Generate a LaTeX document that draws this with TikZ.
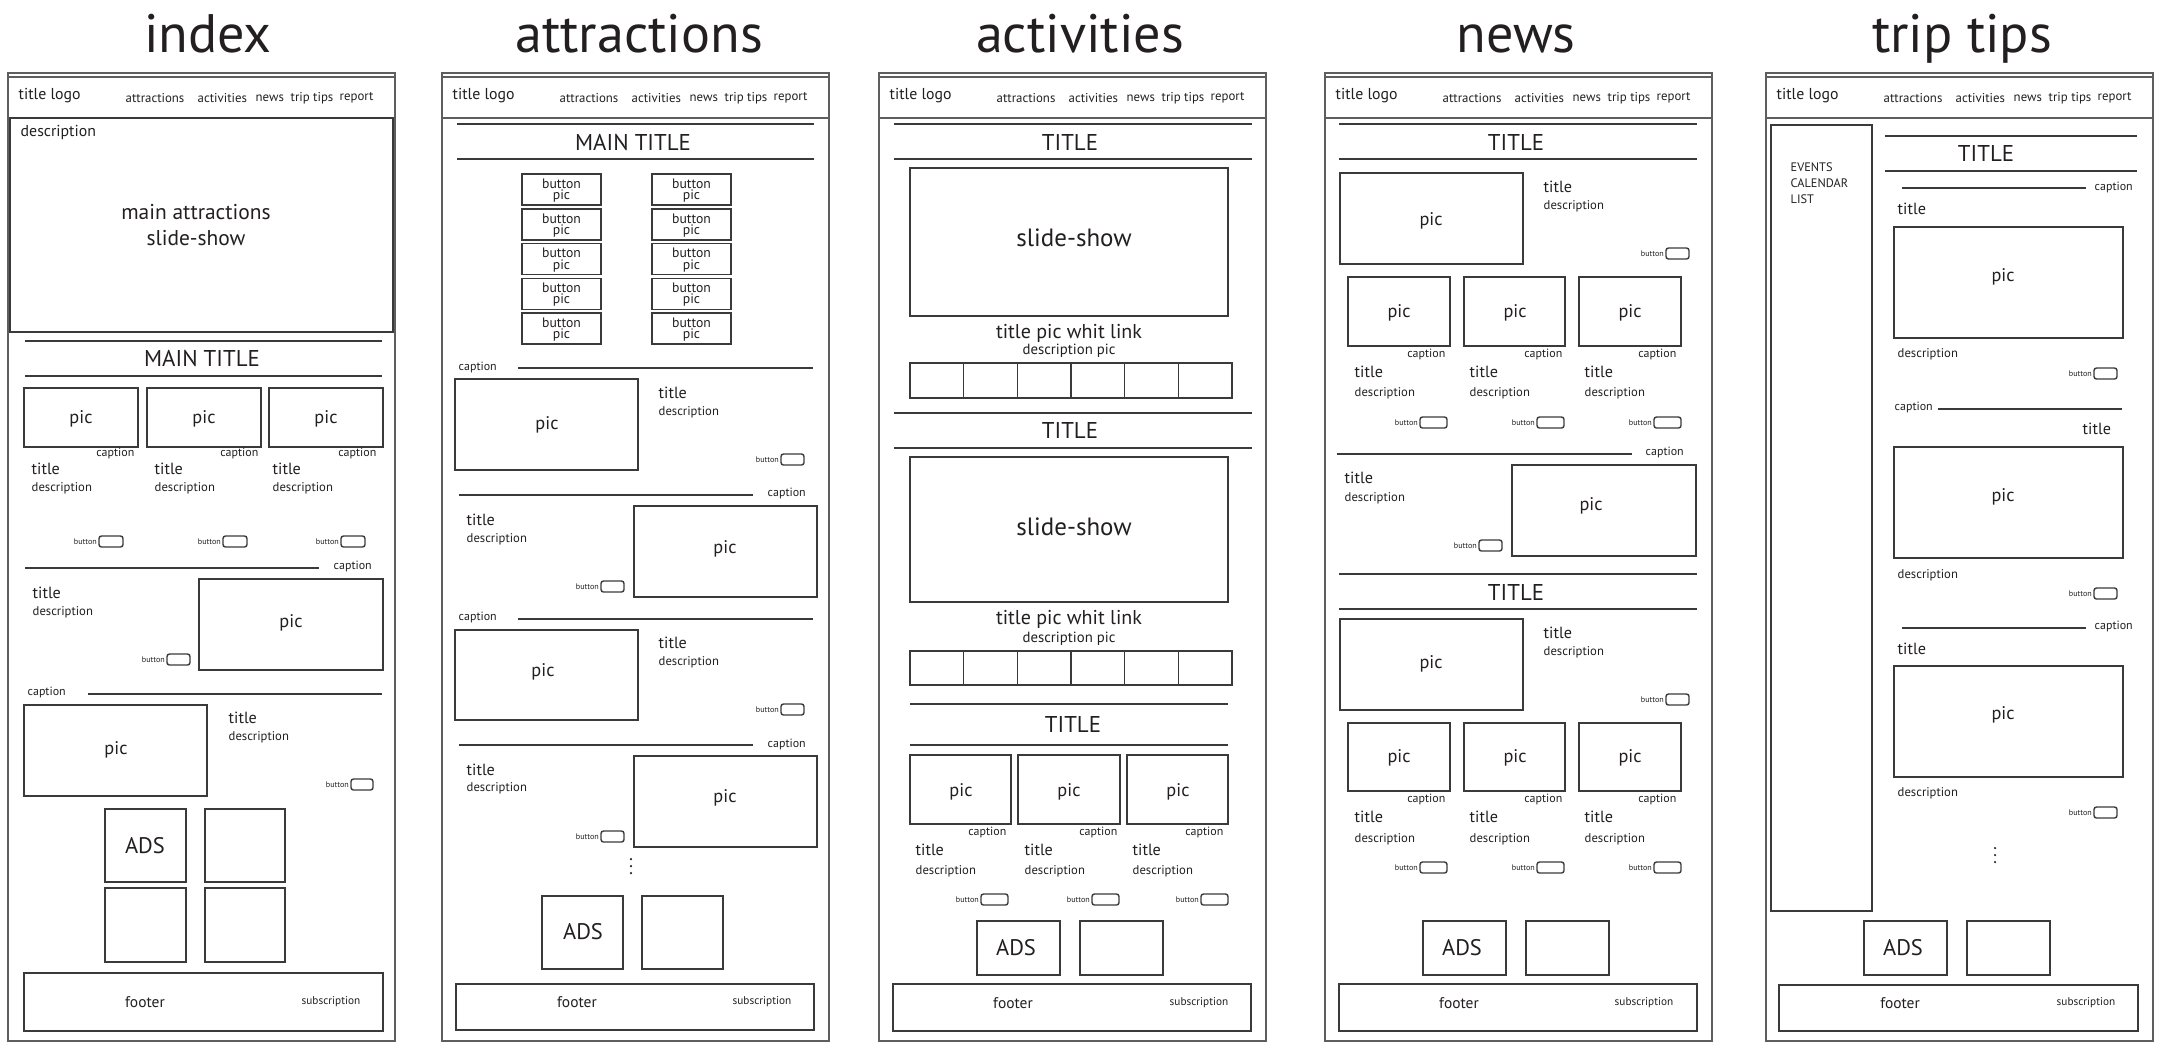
\documentclass[tikz,border=0pt]{standalone}
\usepackage{fontspec}
\setmainfont{PT Sans}
\usetikzlibrary{positioning}
\definecolor{wire}{HTML}{3A3A3A}
\definecolor{framegray}{HTML}{5E5E5E}
\definecolor{ink}{HTML}{231F20}
\tikzset{
	frame/.style={draw=framegray, line width=0.75pt},
	box/.style={draw=wire, line width=0.45pt},
	rule/.style={draw=wire, line width=0.5pt},
	btnbox/.style={draw=wire, line width=0.4pt, rounded corners=0.025cm},
	txt/.style={inner sep=0pt, text=ink},
	pagetitle/.style={txt, anchor=base, font=\fontsize{15.4}{16}\selectfont},
	logotxt/.style={txt, anchor=west, font=\fontsize{4.5}{5}\selectfont},
	navtxt/.style={txt, anchor=west, font=\fontsize{3.65}{4}\selectfont},
	herotxt/.style={txt, anchor=west, font=\fontsize{4.5}{5}\selectfont},
	showtxt/.style={txt, align=center, font=\fontsize{6.1}{7.4}\selectfont},
	bigtitle/.style={txt, font=\fontsize{6.5}{7}\selectfont},
	pictxt/.style={txt, font=\fontsize{5.2}{6}\selectfont},
	captxt/.style={txt, font=\fontsize{3.4}{4}\selectfont},
	ttltxt/.style={txt, anchor=west, font=\fontsize{4.6}{5}\selectfont},
	desctxt/.style={txt, anchor=west, font=\fontsize{3.6}{4}\selectfont},
	btntxt/.style={txt, anchor=east, font=\fontsize{2.3}{3}\selectfont},
	adstxt/.style={txt, font=\fontsize{6.4}{7}\selectfont},
	foottxt/.style={txt, font=\fontsize{4.4}{5}\selectfont},
	subtxt/.style={txt, font=\fontsize{3.2}{4}\selectfont},
	bptxt/.style={txt, font=\fontsize{3.9}{4.5}\selectfont},
	slidetxt/.style={txt, font=\fontsize{7.1}{8}\selectfont},
	linktxt/.style={txt, font=\fontsize{5.7}{6}\selectfont},
	descpic/.style={txt, font=\fontsize{4.2}{5}\selectfont},
	listtxt/.style={txt, anchor=north west, align=left, font=\fontsize{3.5}{4.55}\selectfont}
}
% frame + header of one page: prefix, title x, title
\newcommand{\wirehead}[3]{%
	\draw[frame] (0,73) rectangle ++(387,968);
	\draw[frame] (0,77) rectangle ++(387,41);
	\node[pagetitle] (#1name) at (#2,52) {#3};
	\node[logotxt] (#1logo) at (10,96) {title logo};
	\node[navtxt] (#1nav1) at (117,98) {attractions};
	\node[navtxt] (#1nav2) at (189,98) {activities};
	\node[navtxt] (#1nav3) at (247,98) {news};
	\node[navtxt] (#1nav4) at (282,98) {trip tips};
	\node[navtxt] (#1nav5) at (331,98) {report};}
% small button: name, x, y, width
\newcommand{\webbtn}[4]{%
	\draw[btnbox] (#2,#3) rectangle ++(#4,11);
	\node[btntxt] (#1) at (#2-1.5,#3+5.5) {button};}

\begin{document}
\begin{tikzpicture}[x=0.01cm, y=-0.01cm]
	\useasboundingbox (0,0) rectangle (2161,1050);

	%%%%%%%%%%%%%%%%%%%% index
	\begin{scope}[shift={(8,0)}]
	\wirehead{idx}{200}{index}
	
	% slide-show
	\draw[box] (2,118) rectangle ++(383,214);
	\node[herotxt] (idxdesc) at (12,132) {description};
	\node[showtxt] (idxshow) at (188,225) {main attractions\\slide-show};
	
	% main title
	\draw[rule] (17,341) -- (374,341);
	\draw[rule] (17,376) -- (374,376);
	\node[bigtitle] (idxmain) at (194,358) {MAIN TITLE};
	
	% three pics
	\draw[box] (16,388) rectangle ++(114,59);
	\draw[box] (139,388) rectangle ++(114,59);
	\draw[box] (261,388) rectangle ++(114,59);
	\node[pictxt] (idxpic1) at (73,419) {pic};
	\node[pictxt] (idxpic2) at (196,419) {pic};
	\node[pictxt] (idxpic3) at (318,419) {pic};
	\node[captxt, anchor=east] (idxcap1) at (127,453) {caption};
	\node[captxt, anchor=east] (idxcap2) at (251,453) {caption};
	\node[captxt, anchor=east] (idxcap3) at (369,453) {caption};
	\node[ttltxt] (idxt1) at (23,469) {title};
	\node[ttltxt] (idxt2) at (146,469) {title};
	\node[ttltxt] (idxt3) at (264,469) {title};
	\node[desctxt] (idxd1) at (23,488) {description};
	\node[desctxt] (idxd2) at (146,488) {description};
	\node[desctxt] (idxd3) at (264,488) {description};
	\webbtn{idxb1}{91}{536}{24}
	\webbtn{idxb2}{215}{536}{24}
	\webbtn{idxb3}{333}{536}{24}
	
	% pic right
	\draw[rule] (17,568) -- (311,568);
	\node[captxt, anchor=west] (idxcap4) at (325,566) {caption};
	\node[ttltxt] (idxt4) at (24,593) {title};
	\node[desctxt] (idxd4) at (24,612) {description};
	\draw[box] (191,579) rectangle ++(184,91);
	\node[pictxt] (idxpic4) at (283,623) {pic};
	\webbtn{idxb4}{159}{654}{23}
	
	% pic left
	\node[captxt, anchor=west] (idxcap5) at (19,692) {caption};
	\draw[rule] (80,694) -- (374,694);
	\draw[box] (16,705) rectangle ++(183,91);
	\node[pictxt] (idxpic5) at (108,750) {pic};
	\node[ttltxt] (idxt5) at (220,718) {title};
	\node[desctxt] (idxd5) at (220,737) {description};
	\webbtn{idxb5}{343}{779}{22}
	
	% ads
	\draw[box] (97,809) rectangle ++(81,73);
	\draw[box] (197,809) rectangle ++(80,73);
	\draw[box] (97,888) rectangle ++(81,74);
	\draw[box] (197,888) rectangle ++(80,74);
	\node[adstxt] (idxads) at (137,846) {ADS};
	
	% footer
	\draw[box] (16,973) rectangle ++(359,58);
	\node[foottxt] (idxfoot) at (137,1002) {footer};
	\node[subtxt] (idxsub) at (323,1002) {subscription};
	\end{scope}

	%%%%%%%%%%%%%%%%%%%% attractions
	\begin{scope}[shift={(442,0)}]
	\wirehead{att}{197}{attractions}
	
	% main title
	\draw[rule] (15,124) -- (372,124);
	\draw[rule] (15,159) -- (372,159);
	\node[bigtitle] (attmain) at (191,142) {MAIN TITLE};
	
	% button pics
	\foreach \r in {0,...,4}{
		\draw[box] (80,174+34.8*\r) rectangle ++(79,31);
		\draw[box] (210,174+34.8*\r) rectangle ++(79,31);
		\node[bptxt] (attbl\r) at (119.5,183.5+34.8*\r) {button};
		\node[bptxt] (attpl\r) at (119.5,196+34.8*\r) {pic};
		\node[bptxt] (attbr\r) at (249.5,183.5+34.8*\r) {button};
		\node[bptxt] (attpr\r) at (249.5,196+34.8*\r) {pic};
	}
	
	% pic left
	\node[captxt, anchor=west] (attcap1) at (16,367) {caption};
	\draw[rule] (76,368) -- (371,368);
	\draw[box] (13,379) rectangle ++(183,91);
	\node[pictxt] (attpic1) at (105,425) {pic};
	\node[ttltxt] (attt1) at (216,393) {title};
	\node[desctxt] (attd1) at (216,412) {description};
	\webbtn{attb1}{339}{454}{23}
	
	% pic right
	\draw[rule] (17,495) -- (311,495);
	\node[captxt, anchor=west] (attcap2) at (325,493) {caption};
	\node[ttltxt] (attt2) at (24,520) {title};
	\node[desctxt] (attd2) at (24,539) {description};
	\draw[box] (192,506) rectangle ++(183,91);
	\node[pictxt] (attpic2) at (283,549) {pic};
	\webbtn{attb2}{159}{581}{23}
	
	% pic left
	\node[captxt, anchor=west] (attcap3) at (16,617) {caption};
	\draw[rule] (76,619) -- (371,619);
	\draw[box] (13,630) rectangle ++(183,90);
	\node[pictxt] (attpic3) at (101,672) {pic};
	\node[ttltxt] (attt3) at (216,643) {title};
	\node[desctxt] (attd3) at (216,662) {description};
	\webbtn{attb3}{339}{704}{23}
	
	% pic right
	\draw[rule] (17,745) -- (311,745);
	\node[captxt, anchor=west] (attcap4) at (325,744) {caption};
	\node[ttltxt] (attt4) at (24,770) {title};
	\node[desctxt] (attd4) at (24,788) {description};
	\draw[box] (192,756) rectangle ++(183,91);
	\node[pictxt] (attpic4) at (283,798) {pic};
	\webbtn{attb4}{159}{831}{23}
	\foreach \d in {0,1,2}
		\fill[ink] (189,859+7*\d) circle (0.35pt);
	
	% ads
	\draw[box] (100,896) rectangle ++(81,73);
	\draw[box] (200,896) rectangle ++(81,73);
	\node[adstxt] (attads) at (141,932) {ADS};
	
	% footer
	\draw[box] (14,984) rectangle ++(358,46);
	\node[foottxt] (attfoot) at (135,1002) {footer};
	\node[subtxt] (attsub) at (320,1002) {subscription};
	\end{scope}

	%%%%%%%%%%%%%%%%%%%% activities
	\begin{scope}[shift={(879,0)}]
	\wirehead{act}{201}{activities}
	
	% first slide-show
	\draw[rule] (15,124) -- (373,124);
	\draw[rule] (15,159) -- (373,159);
	\node[bigtitle] (actttl1) at (191,142) {TITLE};
	\draw[box] (31,168) rectangle ++(318,148);
	\node[slidetxt] (actshow1) at (195,238) {slide-show};
	\node[linktxt] (actlink1) at (190,333) {title pic whit link};
	\node[descpic] (actdp1) at (190,351) {description pic};
	\foreach \c in {0,...,5}
		\draw[box] (31+53.67*\c,363) rectangle ++(53.67,35);
	
	% second slide-show
	\draw[rule] (15,413) -- (373,413);
	\draw[rule] (15,448) -- (373,448);
	\node[bigtitle] (actttl2) at (191,430) {TITLE};
	\draw[box] (31,457) rectangle ++(318,145);
	\node[slidetxt] (actshow2) at (195,527) {slide-show};
	\node[linktxt] (actlink2) at (190,619) {title pic whit link};
	\node[descpic] (actdp2) at (190,639) {description pic};
	\foreach \c in {0,...,5}
		\draw[box] (31+53.67*\c,651) rectangle ++(53.67,34);
	
	% three pics
	\draw[rule] (31,704) -- (349,704);
	\draw[rule] (31,745) -- (349,745);
	\node[bigtitle] (actttl3) at (194,724) {TITLE};
	\draw[box] (31,755) rectangle ++(101,69);
	\draw[box] (139,755) rectangle ++(102,69);
	\draw[box] (248,755) rectangle ++(101,69);
	\node[pictxt] (actpic1) at (82,792) {pic};
	\node[pictxt] (actpic2) at (190,792) {pic};
	\node[pictxt] (actpic3) at (299,792) {pic};
	\node[captxt, anchor=east] (actcap1) at (128,832) {caption};
	\node[captxt, anchor=east] (actcap2) at (239,832) {caption};
	\node[captxt, anchor=east] (actcap3) at (345,832) {caption};
	\node[ttltxt] (actt1) at (36,850) {title};
	\node[ttltxt] (actt2) at (145,850) {title};
	\node[ttltxt] (actt3) at (253,850) {title};
	\node[desctxt] (actd1) at (36,871) {description};
	\node[desctxt] (actd2) at (145,871) {description};
	\node[desctxt] (actd3) at (253,871) {description};
	\webbtn{actb1}{102}{894}{27}
	\webbtn{actb2}{213}{894}{27}
	\webbtn{actb3}{322}{894}{27}
	
	% ads
	\draw[box] (98,921) rectangle ++(83,54);
	\draw[box] (201,921) rectangle ++(83,54);
	\node[adstxt] (actads) at (137,948) {ADS};
	
	% footer
	\draw[box] (14,984) rectangle ++(358,47);
	\node[foottxt] (actfoot) at (134,1003) {footer};
	\node[subtxt] (actsub) at (320,1003) {subscription};
	\end{scope}

	%%%%%%%%%%%%%%%%%%%% news
	\begin{scope}[shift={(1325,0)}]
	\wirehead{nws}{191}{news}
	
	% first block
	\draw[rule] (14,124) -- (372,124);
	\draw[rule] (14,159) -- (372,159);
	\node[bigtitle] (nwsttl1) at (191,142) {TITLE};
	\draw[box] (15,173) rectangle ++(183,91);
	\node[pictxt] (nwspic1) at (106,221) {pic};
	\node[ttltxt] (nwst1) at (218,187) {title};
	\node[desctxt] (nwsd1) at (218,206) {description};
	\webbtn{nwsb1}{341}{248}{23}
	
	\draw[box] (23,277) rectangle ++(102,69);
	\draw[box] (139,277) rectangle ++(101,69);
	\draw[box] (254,277) rectangle ++(102,69);
	\node[pictxt] (nwspic2) at (74,313) {pic};
	\node[pictxt] (nwspic3) at (190,313) {pic};
	\node[pictxt] (nwspic4) at (305,313) {pic};
	\node[captxt, anchor=east] (nwscap1) at (121,354) {caption};
	\node[captxt, anchor=east] (nwscap2) at (238,354) {caption};
	\node[captxt, anchor=east] (nwscap3) at (352,354) {caption};
	\node[ttltxt] (nwst2) at (29,372) {title};
	\node[ttltxt] (nwst3) at (144,372) {title};
	\node[ttltxt] (nwst4) at (259,372) {title};
	\node[desctxt] (nwsd2) at (29,393) {description};
	\node[desctxt] (nwsd3) at (144,393) {description};
	\node[desctxt] (nwsd4) at (259,393) {description};
	\webbtn{nwsb2}{95}{417}{27}
	\webbtn{nwsb3}{212}{417}{27}
	\webbtn{nwsb4}{329}{417}{27}
	
	% pic right
	\draw[rule] (12,454) -- (307,454);
	\node[captxt, anchor=west] (nwscap4) at (320,452) {caption};
	\node[ttltxt] (nwst5) at (19,478) {title};
	\node[desctxt] (nwsd5) at (19,498) {description};
	\draw[box] (187,465) rectangle ++(184,91);
	\node[pictxt] (nwspic5) at (266,506) {pic};
	\webbtn{nwsb5}{154}{540}{23}
	
	% second block
	\draw[rule] (14,574) -- (372,574);
	\draw[rule] (14,609) -- (372,609);
	\node[bigtitle] (nwsttl2) at (191,592) {TITLE};
	\draw[box] (15,619) rectangle ++(183,91);
	\node[pictxt] (nwspic6) at (106,664) {pic};
	\node[ttltxt] (nwst6) at (218,633) {title};
	\node[desctxt] (nwsd6) at (218,652) {description};
	\webbtn{nwsb6}{341}{694}{23}
	
	\draw[box] (23,723) rectangle ++(102,68);
	\draw[box] (139,723) rectangle ++(101,68);
	\draw[box] (254,723) rectangle ++(102,68);
	\node[pictxt] (nwspic7) at (74,758) {pic};
	\node[pictxt] (nwspic8) at (190,758) {pic};
	\node[pictxt] (nwspic9) at (305,758) {pic};
	\node[captxt, anchor=east] (nwscap5) at (121,799) {caption};
	\node[captxt, anchor=east] (nwscap6) at (238,799) {caption};
	\node[captxt, anchor=east] (nwscap7) at (352,799) {caption};
	\node[ttltxt] (nwst7) at (29,817) {title};
	\node[ttltxt] (nwst8) at (144,817) {title};
	\node[ttltxt] (nwst9) at (259,817) {title};
	\node[desctxt] (nwsd7) at (29,839) {description};
	\node[desctxt] (nwsd8) at (144,839) {description};
	\node[desctxt] (nwsd9) at (259,839) {description};
	\webbtn{nwsb7}{95}{862}{27}
	\webbtn{nwsb8}{212}{862}{27}
	\webbtn{nwsb9}{329}{862}{27}
	
	% ads
	\draw[box] (98,921) rectangle ++(83,54);
	\draw[box] (201,921) rectangle ++(83,54);
	\node[adstxt] (nwsads) at (137,948) {ADS};
	
	% footer
	\draw[box] (14,984) rectangle ++(358,47);
	\node[foottxt] (nwsfoot) at (134,1003) {footer};
	\node[subtxt] (nwssub) at (319,1003) {subscription};
	\end{scope}

	%%%%%%%%%%%%%%%%%%%% trip tips
	\begin{scope}[shift={(1766,0)}]
	\wirehead{tip}{196}{trip tips}
	
	% side bar
	\draw[box] (5,125) rectangle ++(101,786);
	\node[listtxt] (tiplist) at (24,162) {EVENTS\\CALENDAR\\LIST};
	
	% title
	\draw[rule] (119,136) -- (371,136);
	\draw[rule] (119,171) -- (371,171);
	\node[bigtitle] (tipttl) at (220,153) {TITLE};
	
	% first tip
	\draw[rule] (136,188) -- (320,188);
	\node[captxt, anchor=west] (tipcap1) at (328,187) {caption};
	\node[ttltxt] (tipt1) at (131,209) {title};
	\draw[box] (128,227) rectangle ++(229,111);
	\node[pictxt] (tippic1) at (237,277) {pic};
	\node[desctxt] (tipd1) at (131,354) {description};
	\webbtn{tipb1}{328}{368}{23}
	
	% second tip
	\node[captxt, anchor=west] (tipcap2) at (128,407) {caption};
	\draw[rule] (172,409) -- (356,409);
	\node[ttltxt] (tipt2) at (316,429) {title};
	\draw[box] (128,447) rectangle ++(229,111);
	\node[pictxt] (tippic2) at (237,497) {pic};
	\node[desctxt] (tipd2) at (131,575) {description};
	\webbtn{tipb2}{328}{588}{23}
	
	% third tip
	\draw[rule] (136,628) -- (320,628);
	\node[captxt, anchor=west] (tipcap3) at (328,626) {caption};
	\node[ttltxt] (tipt3) at (131,649) {title};
	\draw[box] (128,666) rectangle ++(229,111);
	\node[pictxt] (tippic3) at (237,715) {pic};
	\node[desctxt] (tipd3) at (131,793) {description};
	\webbtn{tipb3}{328}{807}{23}
	\foreach \d in {0,1,2}
		\fill[ink] (229,848+7*\d) circle (0.35pt);
	
	% ads
	\draw[box] (98,921) rectangle ++(83,54);
	\draw[box] (201,921) rectangle ++(83,54);
	\node[adstxt] (tipads) at (137,948) {ADS};
	
	% footer
	\draw[box] (13,985) rectangle ++(359,46);
	\node[foottxt] (tipfoot) at (134,1003) {footer};
	\node[subtxt] (tipsub) at (320,1003) {subscription};
	\end{scope}
\end{tikzpicture}
\end{document}
